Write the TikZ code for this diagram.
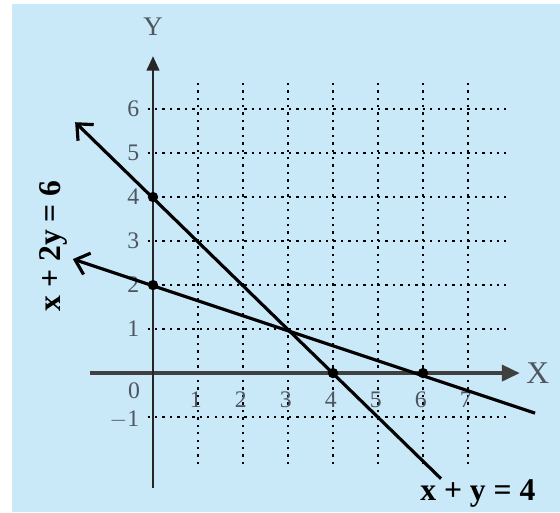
\documentclass[tikz,border=0pt]{standalone}
\usepackage{fontspec}
\setmainfont{Liberation Serif}
\usetikzlibrary{arrows.meta}

\definecolor{paperblue}{HTML}{C9E8F8}
\definecolor{ticktext}{HTML}{4E5660}

\begin{document}
\begin{tikzpicture}[x=1cm, y=0.978cm,
  grid line/.style={line width=1.5pt, dash pattern=on 1.5pt off 3.2pt},
  graph line/.style={line width=2pt, -{Straight Barb[length=2.8mm,width=5mm]}},
  tick label/.style={text=ticktext, font=\fontsize{15}{17}\selectfont, inner sep=0pt},
  axis label/.style={text=ticktext, inner sep=0pt},
  eq label/.style={font=\bfseries\fontsize{20}{24}\selectfont, inner sep=0pt},
  pt/.style={circle, fill=black, inner sep=0pt, minimum size=2.3mm}]
  \useasboundingbox (-3.4,-3.159) rectangle (9.044,8.477);
  \fill[paperblue] (-3.133,-3.159) rectangle (9.044,8.386);

  % Grid
  \foreach \y in {-1,...,6}
    \draw[grid line] (-0.12,\y) -- (7.85,\y);
  \foreach \x in {1,...,7}
    \draw[grid line] (\x,-2.07) -- (\x,6.61);

  % Axes
  \coordinate (xstart) at (-1.4,0);
  \coordinate (ystart) at (0,-2.61);
  \node[axis label, font=\fontsize{20}{22}\selectfont] (xlab) at (8.55,0) {X};
  \node[axis label, font=\fontsize{17}{19}\selectfont] (ylab) at (0,7.86) {Y};
  \draw[line width=2.2pt, black!75, -{Triangle[length=4mm,width=3.6mm]}] (xstart) -- (8.15,0);
  \draw[line width=1.4pt, black!85, -{Triangle[length=3.2mm,width=2.8mm]}] (ystart) -- (0,7.2);

  % Tick labels
  \foreach \y in {1,...,6}
    \node[tick label, anchor=east] (ty\y) at (-0.3,\y) {\y};
  \node[tick label, anchor=east] (tym) at (-0.3,-1.05) {$-$1};
  \node[tick label] (t0) at (-0.42,-0.41) {0};
  \foreach \x in {1,...,7}
    \node[tick label] (tx\x) at (\x-0.05,-0.6) {\x};

  % Lines
  \coordinate (aend) at (6.4,-2.4);
  \coordinate (atip) at (-1.73,5.7);
  \coordinate (bend) at (8.49,-0.91);
  \coordinate (btip) at (-1.78,2.59);
  \draw[graph line] (aend) -- (atip);
  \draw[graph line] (bend) -- (btip);

  % Points
  \node[pt] (p04) at (0,4) {};
  \node[pt] (p02) at (0,2) {};
  \node[pt] (p40) at (4,0) {};
  \node[pt] (p60) at (6,0) {};

  % Equations
  \node[eq label] (eqa) at (7.22,-2.73) {x + y = 4};
  \node[eq label, rotate=90] (eqb) at (-2.22,2.89) {x + 2y = 6};
\end{tikzpicture}
\end{document}
